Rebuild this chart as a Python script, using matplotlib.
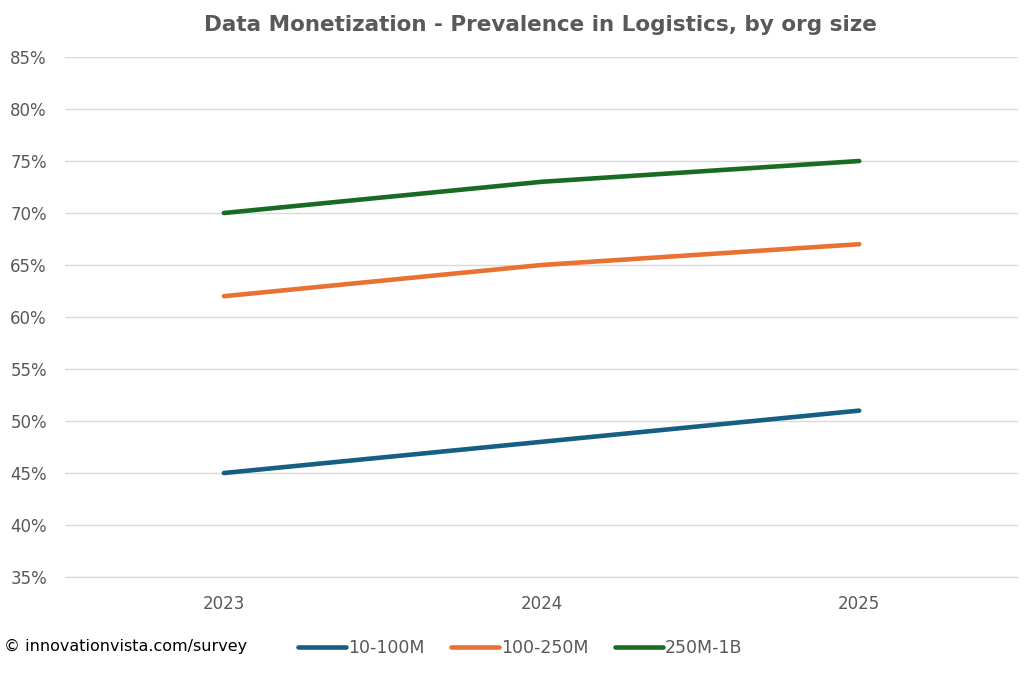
import matplotlib.pyplot as plt
from matplotlib.ticker import PercentFormatter

years = ['2023', '2024', '2025']
small = [45, 48, 51]      # 10-100M
mid = [62, 65, 67]        # 100-250M
large = [70, 73, 75]      # 250M-1B
labels = ['10-100M', '100-250M', '250M-1B']
colors = ['#156082', '#E97132', '#196B24']

grey = '#595959'
plt.rcParams['font.family'] = ['DejaVu Sans']

fig = plt.figure(figsize=(10.24, 6.73), dpi=100)
ax = fig.add_axes([0.0635, 0.1426, 0.9307, 0.7727])

x = range(len(years))
for vals, lab, c in zip([small, mid, large], labels, colors):
    ax.plot(x, vals, color=c, lw=3.3, label=lab, solid_capstyle='round')

ax.set_xlim(-0.5, 2.5)
ax.set_ylim(35, 85)
ax.set_yticks(range(35, 86, 5))
ax.yaxis.set_major_formatter(PercentFormatter(decimals=0))
ax.set_xticks(list(x))
ax.set_xticklabels(years)
ax.grid(axis='y', color='#d9d9d9', lw=1)
ax.set_axisbelow(True)
for s in ['top', 'right', 'left']:
    ax.spines[s].set_visible(False)
ax.spines['bottom'].set_color('#d9d9d9')
ax.tick_params(axis='x', length=0, colors=grey, labelsize=12, pad=13)
ax.tick_params(axis='y', length=0, colors=grey, labelsize=12, pad=13)

fig.text(0.528, 0.978, 'Data Monetization - Prevalence in Logistics, by org size',
         ha='center', va='top', fontsize=15.5, fontweight='bold', color=grey)
fig.text(0.004, 0.039, '\u00a9 innovationvista.com/survey', ha='left', va='center',
         fontsize=11.5, color='black')
fig.legend(loc='center', bbox_to_anchor=(0.508, 0.037), ncol=3, frameon=False,
           fontsize=12.5, handlelength=2.8, handletextpad=0.1, columnspacing=1.5,
           labelcolor=grey)

fig.savefig('out.png', dpi=100)
